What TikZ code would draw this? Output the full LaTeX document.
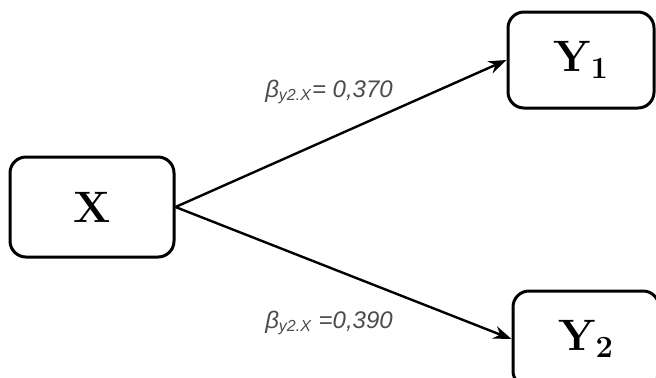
\documentclass[tikz,border=0pt]{standalone}
\usepackage{fontspec}
\newfontfamily\coeffont{Liberation Sans}
\usetikzlibrary{arrows.meta}

\begin{document}
\begin{tikzpicture}[
    x=0.5pt, y=-0.5pt,
    var/.style={draw, line width=1.5pt, rounded corners=8pt, minimum width=#1, minimum height=48pt,
                font=\fontsize{22}{25}\selectfont\bfseries},
    var/.default=73pt,
    link/.style={line width=1.2pt, -{Stealth[length=9pt, width=6.5pt]}},
    coef/.style={font=\coeffont\itshape\fontsize{12}{14}\selectfont, text=black!70}
]
\useasboundingbox (0,0) rectangle (656,377);
\clip (0,0) rectangle (656,377);

% Variables
\node[var=82pt, minimum height=50pt] (x) at (92,207) {X};
\node[var] (y1) at (581,60) {Y\textsubscript{1}};
\node[var] (y2) at (586,339) {Y\textsubscript{2}};

% Paths with coefficients
\draw[link] (x.east) -- (y1.west);
\draw[link] (x.east) -- (y2.west);

\node[coef] (b1) at (329,92) {β\textsubscript{y2.X}= 0,370};
\node[coef] (b2) at (329,323) {β\textsubscript{y2.X} =0,390};
\end{tikzpicture}
\end{document}
